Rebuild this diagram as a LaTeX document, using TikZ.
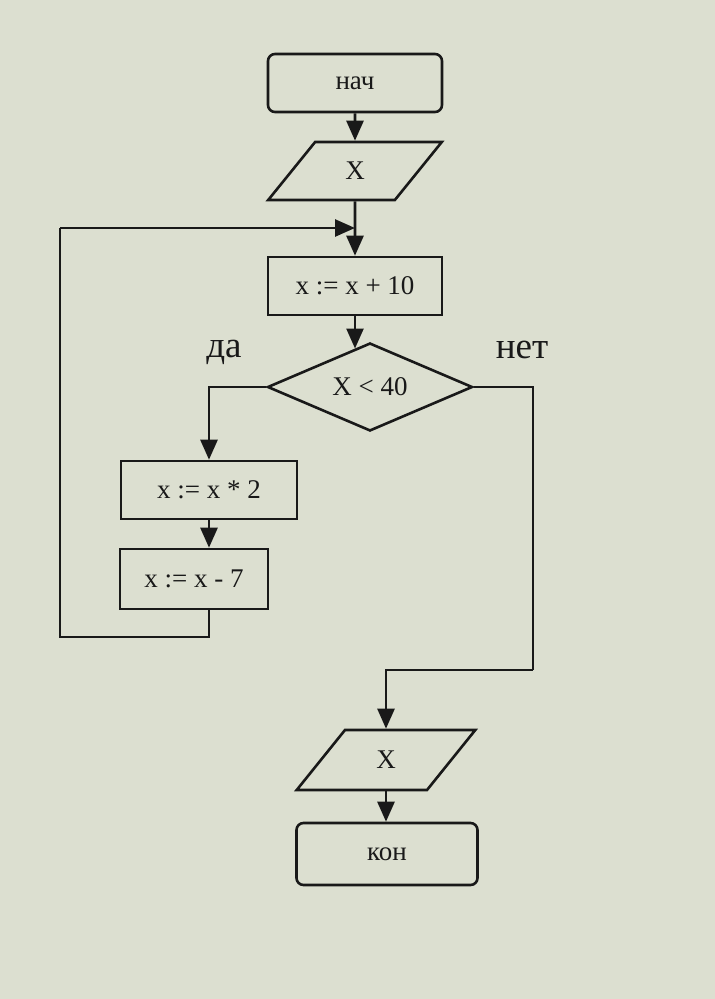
\documentclass[tikz,border=0pt]{standalone}
\usepackage{fontspec}
\setmainfont{Liberation Serif}
\usetikzlibrary{shapes.geometric,arrows.meta,calc}
\definecolor{bgcol}{RGB}{220,223,208}
\definecolor{ink}{RGB}{25,25,25}
\begin{document}
\begin{tikzpicture}[x=1pt,y=-1pt,
  line width=2.6pt, draw=ink,
  txt/.style={font=\fontsize{27}{31}\selectfont, text=ink},
  procbox/.style={txt, draw=ink, rectangle, minimum height=58pt, inner sep=0pt},
  termbox/.style={procbox, rounded corners=7pt},
  iobox/.style={txt, draw=ink, trapezium, trapezium left angle=57, trapezium right angle=123,
     trapezium stretches=true, minimum height=58pt, inner sep=0pt},
  decbox/.style={txt, draw=ink, diamond, aspect=2.3, minimum width=205pt, minimum height=88pt, inner sep=0pt},
  arr/.style={-{Triangle[length=20pt,width=17pt]}},
  lbl/.style={font=\fontsize{37}{41}\selectfont, text=ink}
]
\fill[bgcol] (0,0) rectangle (715,999);
\useasboundingbox (0,0) rectangle (715,999);

\node[termbox, minimum width=174pt] (start) at (355,83) {нач};
\node[iobox, minimum width=174pt] (in1) at (355,171) {X};
\node[procbox, minimum width=174pt] (a1) at (355,286) {x := x + 10};
\node[decbox] (cond) at (370,387) {X < 40};
\node[procbox, minimum width=176pt] (a2) at (209,490) {x := x * 2};
\node[procbox, minimum width=148pt, minimum height=60pt] (a3) at (194,579) {x := x - 7};
\node[iobox, minimum width=179pt, minimum height=60pt] (out1) at (386,760) {X};
\node[termbox, minimum width=181pt, minimum height=62pt] (stop) at (387,854) {кон};

\node[lbl] (yes) at (224,352) {да};
\node[lbl] (no) at (522,350) {нет};

\coordinate (merge) at (355,228);
\coordinate (lp1) at (209,637);
\coordinate (lp2) at (60,637);
\coordinate (lp3) at (60,228);
\coordinate (nc1) at (533,670);
\coordinate (ctop) at ($(cond.north)!0.15!(cond.west)$);

\draw[arr] (start.south) -- (in1.north);
\draw[arr] (in1.south) -- (a1.north);
\draw[arr] (a1.south) -- (a1.south |- ctop);
\draw[arr] (cond.west) -| (a2.north);
\draw[arr] (a2.south) -- (a2.south |- a3.north);
\draw (a2.south |- a3.south) -- (lp1) -- (lp2) -- (lp3);
\draw[arr] (lp3) -- (merge);
\draw (cond.east) -| (nc1);
\draw[arr] (nc1) -| (out1.north);
\draw[arr] (out1.south) -- (out1.south |- stop.north);
\end{tikzpicture}
\end{document}
